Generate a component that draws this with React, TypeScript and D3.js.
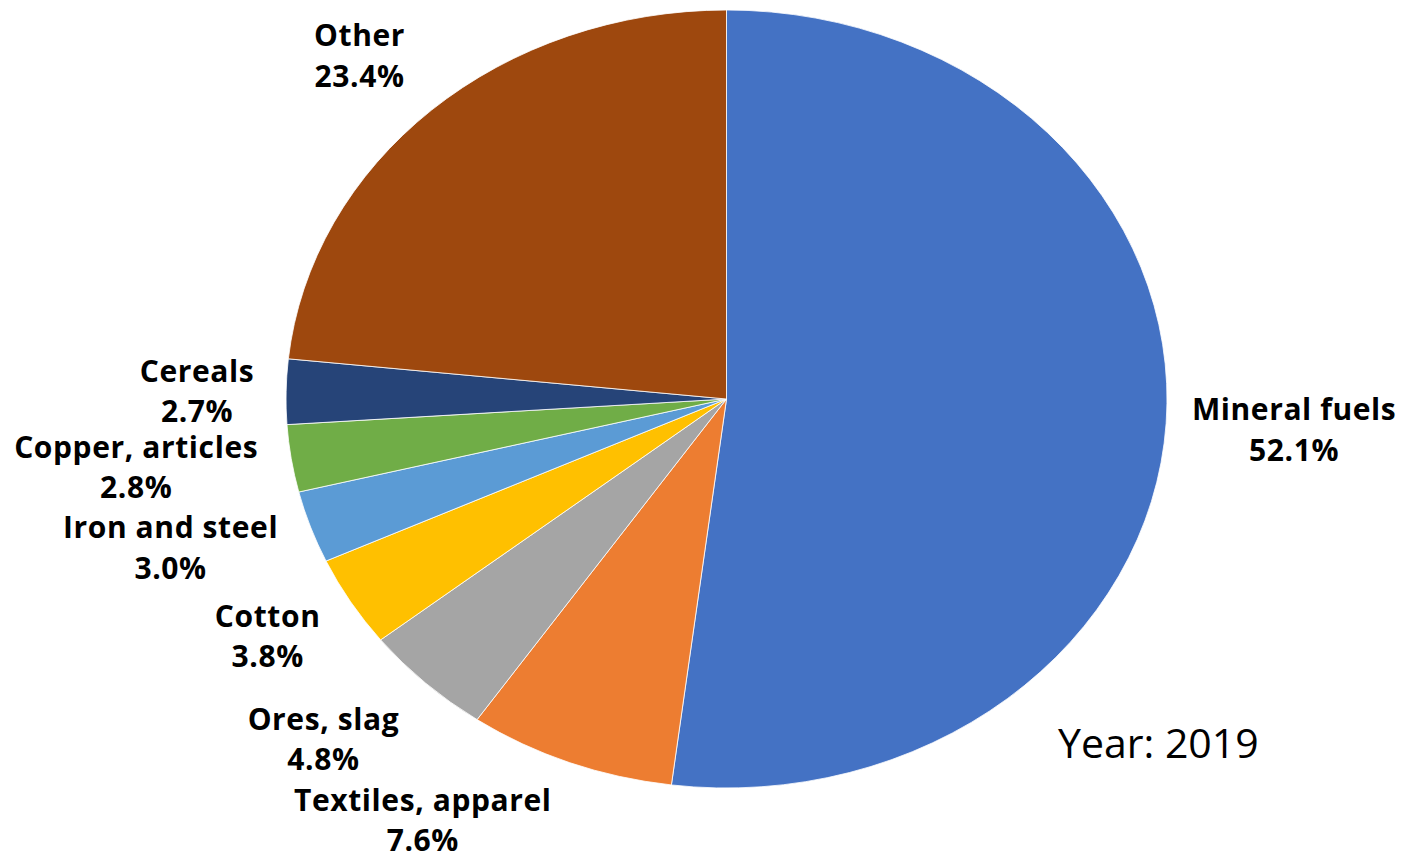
import React from 'react';
import * as d3 from 'd3';

// Export shares, 2019 (%), clockwise from 12 o'clock
const categories = [
  'Mineral fuels',
  'Textiles, apparel',
  'Ores, slag',
  'Cotton',
  'Iron and steel',
  'Copper, articles',
  'Cereals',
  'Other',
];
const shares = [52.1, 7.6, 4.8, 3.8, 3.0, 2.8, 2.7, 23.4];
const colors = ['#4472C4', '#ED7D31', '#A5A5A5', '#FFC000', '#5B9BD5', '#70AD47', '#264478', '#9E480E'];

// label nudges (first-line baseline) relative to the slice's rim point
const labelOffsets: [number, number][] = [
  [128, -3],
  [-147, 48],
  [-102, 47],
  [-83, 25],
  [-140, 11],
  [-155, -1],
  [-89, -10],
  [-72, -64],
];

const W = 1403;
const H = 855;
const cx = 726.5;
const cy = 399;
const rx = 440.5;
const ry = 389;

const App: React.FC = () => {
  const rows = categories.map((name, i) => ({ name, value: shares[i], color: colors[i] }));
  const pie = d3.pie<typeof rows[number]>().sort(null).value(d => d.value);
  const arcs = pie(rows);
  const arc = d3.arc<d3.PieArcDatum<typeof rows[number]>>().innerRadius(0).outerRadius(ry);

  return (
    <div style={{ position: 'absolute', left: 0, top: 0 }}>
      <svg width={W} height={H} style={{ display: 'block', background: '#fff' }}>
        <g transform={`translate(${cx},${cy}) scale(${rx / ry},1)`}>
          {arcs.map(a => (
            <path
              key={a.data.name}
              d={arc(a) || ''}
              fill={a.data.color}
              stroke="#fff"
              strokeWidth={0.8}
              vectorEffect="non-scaling-stroke"
            />
          ))}
        </g>
        <g
          fontFamily="'Open Sans', Lato, sans-serif"
          fontWeight="bold"
          fontSize={30}
          letterSpacing={0.6}
          fill="#000"
          textAnchor="middle"
        >
          {arcs.map((a, i) => {
            const mid = (a.startAngle + a.endAngle) / 2;
            const px = cx + rx * Math.sin(mid);
            const py = cy - ry * Math.cos(mid);
            const x = px + labelOffsets[i][0];
            const y = py + labelOffsets[i][1];
            return (
              <text key={a.data.name} x={x} y={y}>
                <tspan x={x}>{a.data.name}</tspan>
                <tspan x={x} dy={40.5}>{a.data.value.toFixed(1)}%</tspan>
              </text>
            );
          })}
        </g>
        <text x={1058} y={758} fontFamily="'Open Sans', Lato, sans-serif" fontSize={41} fill="#000">
          Year: 2019
        </text>
      </svg>
    </div>
  );
};

export default App;
